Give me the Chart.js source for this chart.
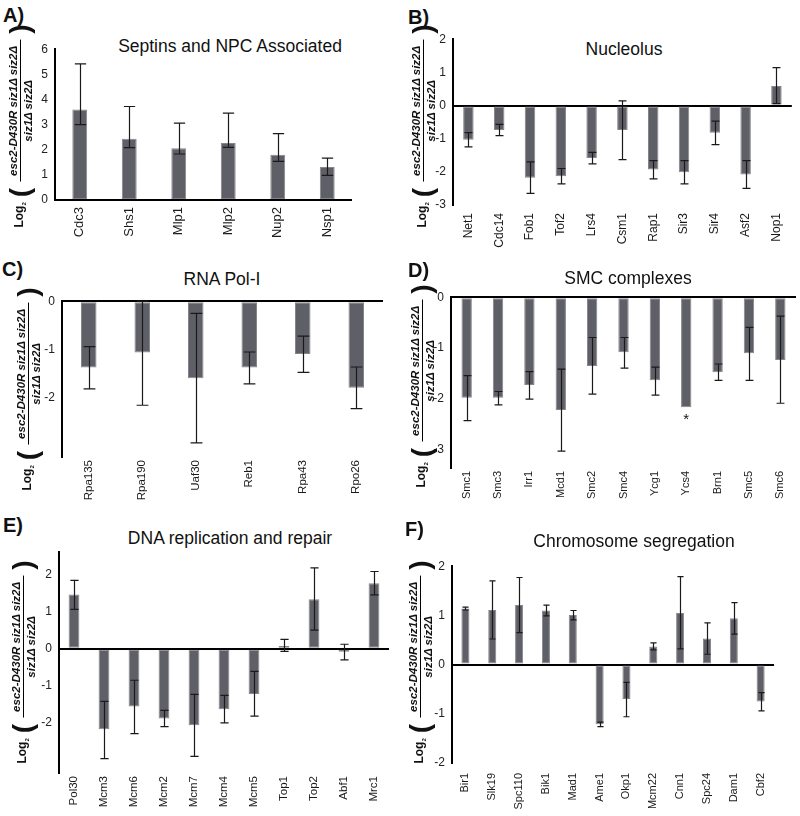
<!DOCTYPE html>
<html>
<head>
<meta charset="utf-8">
<script src="https://cdn.jsdelivr.net/npm/chart.js@4.4.0/dist/chart.umd.min.js"></script>
<style>
  html, body { margin: 0; padding: 0; background: #fff; }
  body { position: relative; width: 800px; height: 816px; overflow: hidden; font-family: "Liberation Sans", Arial, sans-serif; color: #111; }
  canvas { position: absolute; }
  .lab { position: absolute; font: bold 20px "Liberation Sans", Arial, sans-serif; line-height: 1; }
  .ttl { position: absolute; font-size: 17.5px; line-height: 1; white-space: nowrap; transform: translateX(-50%); color: #111; }
  .ylab {
    position: absolute; z-index: 2; display: flex; align-items: center; white-space: nowrap;
    transform: translate(-50%, -50%) rotate(-90deg);
    font: bold italic 11.5px "Liberation Sans", Arial, sans-serif; color: #111;
  }
  .ylab .log { font-style: normal; font-size: 12px; margin-right: 3px; }
  .ylab .log sub { font-size: 6px; }
  .ylab .par { font-style: normal; font-weight: bold; font-size: 28px; line-height: 1; margin: 0 2px; }
  .ylab .frac { display: inline-flex; flex-direction: column; align-items: center; margin: 0 4px; }
  .ylab .num { border-bottom: 1.6px solid #000; padding: 0 6px 1px; }
  .ylab .den { padding-top: 1px; }
</style>
</head>
<body>
<script>
/* ─────────────────────────────────────────────
   Data
───────────────────────────────────────────── */
const catsA = ['Cdc3', 'Shs1', 'Mlp1', 'Mlp2', 'Nup2', 'Nsp1'];
const valsA = [3.6, 2.44, 2.06, 2.27, 1.8, 1.31];
const loA = [3.0, 2.08, 1.83, 2.09, 1.54, 0.98];
const hiA = [5.42, 3.72, 3.06, 3.46, 2.64, 1.67];

const catsB = ['Net1', 'Cdc14', 'Fob1', 'Tof2', 'Lrs4', 'Csm1', 'Rap1', 'Sir3', 'Sir4', 'Asf2', 'Nop1'];
const valsB = [-1.03, -0.74, -2.18, -2.13, -1.58, -0.74, -1.93, -2.01, -0.82, -2.08, 0.59];
const loB = [-1.25, -0.91, -2.65, -2.36, -1.76, -1.63, -2.21, -2.36, -1.18, -2.5, 0.06];
const hiB = [-0.82, -0.57, -1.7, -1.9, -1.41, 0.14, -1.66, -1.66, -0.47, -1.66, 1.14];

const catsC = ['Rpa135', 'Rpa190', 'Uaf30', 'Reb1', 'Rpa43', 'Rpo26'];
const valsC = [-1.37, -1.06, -1.59, -1.37, -1.09, -1.79];
const loC = [-1.81, -2.15, -2.93, -1.71, -1.47, -2.22];
const hiC = [-0.94, 0.0, -0.25, -1.05, -0.72, -1.36];

const catsD = ['Smc1', 'Smc3', 'Irr1', 'Mcd1', 'Smc2', 'Smc4', 'Ycg1', 'Ycs4', 'Brn1', 'Smc5', 'Smc6'];
const valsD = [-1.97, -1.97, -1.72, -2.21, -1.35, -1.08, -1.63, -2.16, -1.47, -1.1, -1.23];
const loD = [-2.42, -2.11, -2.0, -3.02, -1.9, -1.39, -1.92, null, -1.63, -1.63, -2.08];
const hiD = [-1.54, -1.85, -1.46, -1.41, -0.79, -0.79, -1.37, null, -1.31, -0.59, -0.37];
const marksD = ['', '', '', '', '', '', '', '*', '', '', ''];

const catsE = ['Pol30', 'Mcm3', 'Mcm6', 'Mcm2', 'Mcm7', 'Mcm4', 'Mcm5', 'Top1', 'Top2', 'Abf1', 'Mrc1'];
const valsE = [1.46, -2.17, -1.56, -1.88, -2.06, -1.63, -1.22, 0.07, 1.33, -0.08, 1.76];
const loE = [1.06, -2.96, -2.29, -2.1, -2.9, -2.0, -1.82, -0.07, 0.5, -0.3, 1.45];
const hiE = [1.84, -1.42, -0.85, -1.66, -1.23, -1.26, -0.61, 0.25, 2.18, 0.12, 2.08];

const catsF = ['Bir1', 'Slk19', 'Spc110', 'Bik1', 'Mad1', 'Ame1', 'Okp1', 'Mcm22', 'Cnn1', 'Spc24', 'Dam1', 'Cbf2'];
const valsF = [1.14, 1.11, 1.21, 1.1, 1.01, -1.21, -0.7, 0.37, 1.05, 0.53, 0.94, -0.75];
const loF = [1.11, 0.52, 0.65, 0.99, 0.91, -1.26, -1.06, 0.3, 0.32, 0.21, 0.62, -0.94];
const hiF = [1.17, 1.7, 1.77, 1.21, 1.1, -1.17, -0.36, 0.44, 1.79, 0.85, 1.26, -0.57];

/* ─────────────────────────────────────────────
   Panel layout
───────────────────────────────────────────── */
const panels = [
  { letter: 'A)', lp: [3, 5], title: 'Septins and NPC Associated', tp: [230, 38], ylp: [20, 125],
    cats: catsA, vals: valsA, lo: loA, hi: hiA, min: 0, max: 6,
    box: { l: 55, r: 352, t: 47, b: 200 }, bar: 0.3, xPad: 7, xFont: 13 },
  { letter: 'B)', lp: [408, 7], title: 'Nucleolus', tp: [624, 41], ylp: [423, 125],
    cats: catsB, vals: valsB, lo: loB, hi: hiB, min: -3, max: 2,
    box: { l: 453, r: 795, t: 37, b: 205 }, bar: 0.34, xPad: 8, xFont: 12 },
  { letter: 'C)', lp: [2, 259], title: 'RNA Pol-I', tp: [222, 271], ylp: [28, 388],
    cats: catsC, vals: valsC, lo: loC, hi: hiC, min: -3.22, max: 0,
    box: { l: 62, r: 383, t: 299, b: 457 }, bar: 0.29, xPad: 3, xFont: 11.5 },
  { letter: 'D)', lp: [408, 260], title: 'SMC complexes', tp: [628, 270], ylp: [422, 385],
    cats: catsD, vals: valsD, lo: loD, hi: hiD, marks: marksD, min: -3.35, max: 0,
    box: { l: 451, r: 796, t: 295, b: 468 }, bar: 0.33, xPad: 3, xFont: 11 },
  { letter: 'E)', lp: [3, 515], title: 'DNA replication and repair', tp: [230, 530], ylp: [23, 661],
    cats: catsE, vals: valsE, lo: loE, hi: hiE, min: -3.35, max: 2.6,
    box: { l: 59, r: 389, t: 550, b: 773 }, bar: 0.36, xPad: 3, xFont: 11.5 },
  { letter: 'F)', lp: [405, 519], title: 'Chromosome segregation', tp: [634, 533], ylp: [420, 661],
    cats: catsF, vals: valsF, lo: loF, hi: hiF, min: -2, max: 2,
    box: { l: 452, r: 780, t: 564, b: 763 }, bar: 0.3, xPad: 10, xFont: 11 }
];

const YW = 34, PT = 12, PR = 4, XH = 56;
const BAR = '#5f5f67';

/* ─────────────────────────────────────────────
   Error bars + markers
───────────────────────────────────────────── */
const errorBars = {
  id: 'errorBars',
  afterDatasetsDraw(chart) {
    const ds = chart.data.datasets[0];
    const meta = chart.getDatasetMeta(0);
    const y = chart.scales.y;
    const c = chart.ctx;
    c.save();
    c.strokeStyle = '#1a1a1a';
    c.lineWidth = 1.2;
    meta.data.forEach((el, i) => {
      const lo = ds.errLo[i], hi = ds.errHi[i];
      if (lo !== null && hi !== null) {
        const x = Math.round(el.x) + 0.5;
        const y1 = y.getPixelForValue(lo), y2 = y.getPixelForValue(hi);
        const cap = el.width * 0.38;
        c.beginPath();
        c.moveTo(x, y1); c.lineTo(x, y2);
        c.moveTo(x - cap, y1); c.lineTo(x + cap, y1);
        c.moveTo(x - cap, y2); c.lineTo(x + cap, y2);
        c.stroke();
      }
      if (ds.marks && ds.marks[i]) {
        c.fillStyle = '#111';
        c.font = '15px "Liberation Sans", Arial, sans-serif';
        c.textAlign = 'center';
        c.textBaseline = 'top';
        c.fillText(ds.marks[i], el.x, y.getPixelForValue(ds.data[i]) + 5);
      }
    });
    c.restore();
  }
};

/* ─────────────────────────────────────────────
   Build
───────────────────────────────────────────── */
function addDiv(cls, html, left, top) {
  const d = document.createElement('div');
  d.className = cls;
  d.innerHTML = html;
  d.style.left = left + 'px';
  d.style.top = top + 'px';
  document.body.appendChild(d);
  return d;
}

const YLAB = '<span class="log">Log<sub>2</sub></span><span class="par">(</span>' +
  '<span class="frac"><span class="num">esc2-D430R siz1Δ siz2Δ</span><span class="den">siz1Δ siz2Δ</span></span>' +
  '<span class="par">)</span>';

panels.forEach(p => {
  addDiv('lab', p.letter, p.lp[0], p.lp[1]);
  addDiv('ttl', p.title, p.tp[0], p.tp[1]);
  addDiv('ylab', YLAB, p.ylp[0], p.ylp[1]);

  const cv = document.createElement('canvas');
  const w = p.box.r - p.box.l + YW + PR;
  const h = p.box.b - p.box.t + PT + XH;
  cv.width = w; cv.height = h;
  cv.style.left = (p.box.l - YW) + 'px';
  cv.style.top = (p.box.t - PT) + 'px';
  cv.style.width = w + 'px'; cv.style.height = h + 'px';
  document.body.appendChild(cv);

  new Chart(cv, {
    type: 'bar',
    data: {
      labels: p.cats,
      datasets: [{
        data: p.vals, errLo: p.lo, errHi: p.hi, marks: p.marks,
        backgroundColor: BAR, borderColor: '#85858c', borderWidth: 1, borderSkipped: false,
        barPercentage: p.bar, categoryPercentage: 1
      }]
    },
    options: {
      responsive: false, animation: false, devicePixelRatio: 1,
      layout: { padding: { top: PT, right: PR, left: 0, bottom: 0 } },
      plugins: { legend: { display: false }, tooltip: { enabled: false } },
      scales: {
        x: {
          grid: { display: false, drawTicks: false },
          border: { display: false },
          ticks: {
            autoSkip: false, minRotation: 90, maxRotation: 90, padding: p.xPad,
            color: '#1a1a1a', font: { size: p.xFont, family: '"Liberation Sans", Arial, sans-serif' }
          },
          afterFit: s => { s.height = XH; }
        },
        y: {
          min: p.min, max: p.max,
          grid: {
            drawTicks: false,
            color: ctx => (ctx.tick && ctx.tick.value === 0 ? '#000' : 'rgba(0,0,0,0)'),
            lineWidth: 2
          },
          border: { display: true, color: '#000', width: 2 },
          ticks: {
            stepSize: 1, padding: 7, color: '#222',
            font: { size: 12, family: '"Liberation Sans", Arial, sans-serif' }
          },
          afterBuildTicks: s => { s.ticks = s.ticks.filter(t => Number.isInteger(t.value)); },
          afterFit: s => { s.width = YW; }
        }
      }
    },
    plugins: [errorBars]
  });
});
</script>
</body>
</html>
